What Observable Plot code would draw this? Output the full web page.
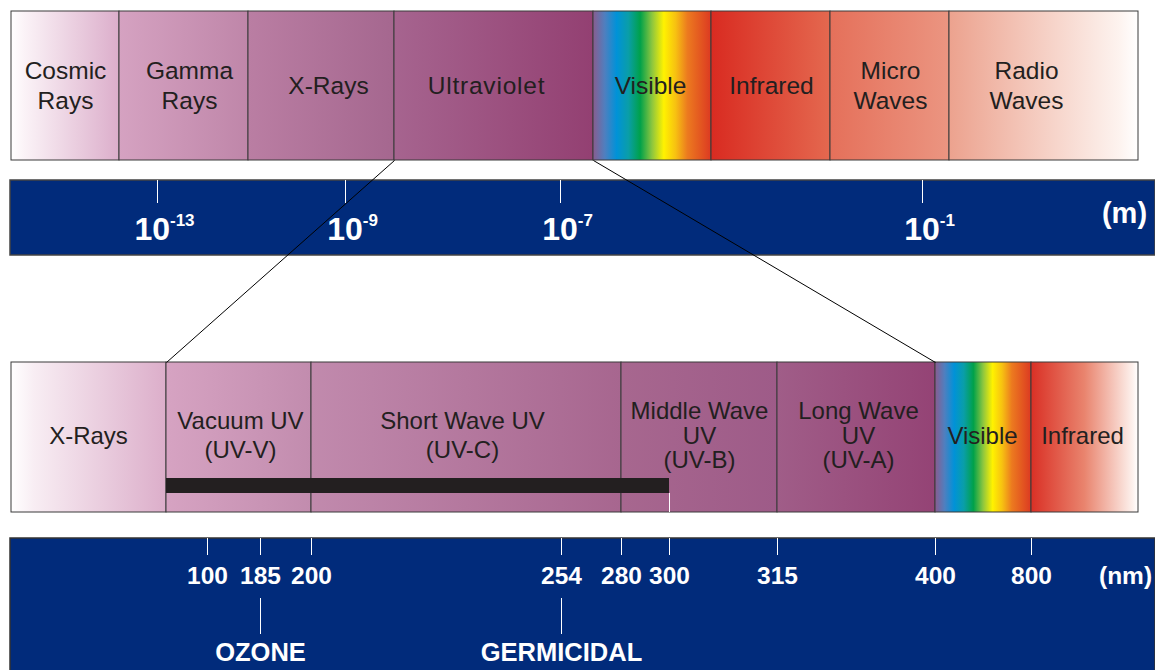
<!DOCTYPE html>
<html><head><meta charset="utf-8">
<script src="https://cdn.jsdelivr.net/npm/d3@7"></script>
<script src="https://cdn.jsdelivr.net/npm/@observablehq/plot@0.6"></script>
<style>html,body{margin:0;padding:0;background:#fff;overflow:hidden}</style>
</head><body><div id="chart"></div>
<script>
// ---------- data (diagram positions) ----------
const spectrumBands = ["Cosmic\nRays","Gamma\nRays","X-Rays","Ultraviolet","Visible","Infrared","Micro\nWaves","Radio\nWaves"];
const spectrumEdges = [11,119,248,394,593,711,830,949,1138];
const spectrumLabelAt = [65,189,328,486,650,771,890,1026];
const meterExponents = ["-13","-9","-7","-1"];
const meterTickAt = [157,345,560,922];
const uvBands = ["X-Rays","Vacuum UV\n(UV-V)","Short Wave UV\n(UV-C)","Middle Wave\nUV\n(UV-B)","Long Wave\nUV\n(UV-A)","Visible","Infrared"];
const uvEdges = [11,166,311,621,777,935,1031,1138];
const uvLabelAt = [88,240,462,699,858,982,1082];
const nmValues = [100,185,200,254,280,300,315,400,800];
const nmTickAt = [207,260,311,561,621,669,777,935,1031];
const lampNames = ["OZONE","GERMICIDAL"];
const lampNm = [185,254];
const absorptionEndNm = 300;

// ---------- styles ----------
const rainbow = [[0,"#8a5c8e"],[0.1,"#4f7fbf"],[0.2,"#0092d8"],[0.3,"#0a9ea8"],[0.4,"#00a14a"],[0.5,"#8cc63f"],[0.6,"#fff200"],[0.7,"#f7c111"],[0.8,"#ec7a1f"],[1,"#dc3a22"]];
const spectrumFills = [
  [[0,"#ffffff"],[0.12,"#fbf3f7"],[1,"#dcaecb"]],
  [[0,"#d5a2c1"],[1,"#bf86a9"]],
  [[0,"#ba7ea3"],[1,"#a5678f"]],
  [[0,"#a6648f"],[1,"#934072"]],
  rainbow,
  [[0,"#d92b21"],[1,"#e4684f"]],
  [[0,"#e5705a"],[1,"#eb9581"]],
  [[0,"#eca28e"],[0.9,"#fdf3ef"],[1,"#ffffff"]]
];
const uvFills = [
  [[0,"#ffffff"],[0.15,"#f8edf3"],[1,"#dcaeca"]],
  [[0,"#d6a3c2"],[1,"#c28cae"]],
  [[0,"#c18aad"],[1,"#a7668f"]],
  [[0,"#a7678f"],[1,"#9e5b88"]],
  [[0,"#a05d88"],[1,"#944375"]],
  rainbow,
  [[0,"#da3025"],[0.5,"#e9846e"],[0.95,"#fdf1ed"],[1,"#ffffff"]]
];
const navy = "#012b7b";
const ink = "#231f20";
const layout = {top:[11,160], meterBar:[180,255], uv:[362,512], nmBar:[538,670], W:1155, H:670};

// ---------- derived tables ----------
const topRects = spectrumBands.map((name,i)=>({name, x1:spectrumEdges[i], x2:spectrumEdges[i+1], lx:spectrumLabelAt[i], fill:`url(#top${i})`}));
const uvRects = uvBands.map((name,i)=>({name, x1:uvEdges[i], x2:uvEdges[i+1], lx:uvLabelAt[i], fill:`url(#uv${i})`}));
const meterTicks = meterExponents.map((e,i)=>({e, x:meterTickAt[i]}));
const nmTicks = nmValues.map((v,i)=>({v, x:nmTickAt[i]}));
const nmPos = v => nmTickAt[nmValues.indexOf(v)];
const lamps = lampNames.map((n,i)=>({n, x:nmPos(lampNm[i])}));
const zoomLinks = [
  {x1: topRects[3].x1, x2: uvRects[1].x1},
  {x1: topRects[3].x2, x2: uvRects[4].x2}
];
const absorption = [{x1: uvRects[1].x1, x2: nmPos(absorptionEndNm)}];

function gradientDefs(){
  const defs = d3.create("svg:defs");
  const add = (id, stops) => {
    const g = defs.append("linearGradient").attr("id",id).attr("x1",0).attr("x2",1).attr("y1",0).attr("y2",0);
    stops.forEach(([o,c])=>g.append("stop").attr("offset",o).attr("stop-color",c));
  };
  spectrumFills.forEach((s,i)=>add(`top${i}`, s));
  uvFills.forEach((s,i)=>add(`uv${i}`, s));
  return defs.node();
}

const c = v => () => v;
const font = "'Liberation Sans', Arial, Helvetica, sans-serif";
const [T0,T1] = layout.top, [M0,M1] = layout.meterBar, [U0,U1] = layout.uv, [N0,N1] = layout.nmBar;
const lines = d => d.name.split("\n").length;

const chart = Plot.plot({
  width: layout.W, height: layout.H, margin: 0,
  x: {domain:[0,layout.W], range:[0,layout.W], axis:null},
  y: {domain:[0,layout.H], range:[0,layout.H], axis:null},
  color: {type:"identity"},
  style: {fontFamily: font, background:"#fff", overflow:"hidden"},
  marks: [
    gradientDefs,
    // top spectrum strip
    Plot.rect(topRects, {x1:"x1", x2:"x2", y1:c(T0), y2:c(T1), fill:"fill", stroke:"#3a3a3a", strokeWidth:1}),
    Plot.text(topRects, {x:"lx", y:c((T0+T1)/2-1.5), text:"name", fontSize:24.5, lineHeight:1.24, lineAnchor:"middle", fill:ink}),
    // meter bar
    Plot.rect([0], {x1:c(spectrumEdges[0]-1), x2:c(layout.W), y1:c(M0), y2:c(M1), fill:navy, stroke:"#444", strokeWidth:1.5}),
    Plot.ruleX(meterTicks, {x:"x", y1:c(M0), y2:c(M0+23), stroke:"#fff", strokeWidth:1}),
    Plot.text(meterTicks, {x:d=>d.x+7, y:c(229), text:d=>"10", fontSize:32, fontWeight:"bold", fill:"#fff"}),
    Plot.text(["(m)"], {x:c(1124), y:c(213), text:d=>d, fontSize:29, fontWeight:"bold", fill:"#fff"}),
    // UV strip
    Plot.rect(uvRects, {x1:"x1", x2:"x2", y1:c(U0), y2:c(U1), fill:"fill", stroke:"#3a3a3a", strokeWidth:1}),
    Plot.rect(absorption, {x1:"x1", x2:"x2", y1:c(478), y2:c(493), fill:ink}),
    Plot.ruleX(absorption, {x:"x2", y1:c(493), y2:c(U1), stroke:"#fff", strokeWidth:1}),
    Plot.text(uvRects.filter(d=>lines(d)<3), {x:"lx", y:c((U0+U1)/2-3), text:"name", fontSize:24, lineHeight:1.2, lineAnchor:"middle", fill:ink}),
    Plot.text(uvRects.filter(d=>lines(d)==3), {x:"lx", y:c((U0+U1)/2-2), text:"name", fontSize:24, lineHeight:1.04, lineAnchor:"middle", fill:ink}),
    // nm bar
    Plot.rect([0], {x1:c(spectrumEdges[0]-1), x2:c(layout.W), y1:c(N0), y2:c(N1+5), fill:navy, stroke:"#333", strokeWidth:1.5}),
    Plot.ruleX(nmTicks, {x:"x", y1:c(N0), y2:c(N0+17), stroke:"#fff", strokeWidth:1}),
    Plot.text(nmTicks, {x:"x", y:c(576), text:d=>String(d.v), fontSize:24.5, fontWeight:"bold", fill:"#fff"}),
    Plot.text(["(nm)"], {x:c(1125), y:c(576), text:d=>d, fontSize:24.5, fontWeight:"bold", fill:"#fff"}),
    Plot.ruleX(lamps, {x:"x", y1:c(598), y2:c(634), stroke:"#fff", strokeWidth:1}),
    Plot.text(lamps, {x:"x", y:c(652), text:"n", fontSize:25.5, fontWeight:"bold", fill:"#fff"}),
    // zoom connectors
    Plot.link(zoomLinks, {x1:"x1", x2:"x2", y1:c(T1), y2:c(U0), stroke:"#000", strokeWidth:1})
  ]
});

// superscript exponents on the meter labels ("10" texts, in data order)
const tens = d3.select(chart).selectAll("text").filter(function(){ return this.textContent === "10"; });
tens.each(function(_, i){
  d3.select(this).append("tspan").attr("dy", -14).attr("font-size", 17).text(meterTicks[i].e);
});
// slight letter spacing on "Ultraviolet" as in the original artwork
d3.select(chart).selectAll("text").filter(function(){ return this.textContent === "Ultraviolet"; }).attr("letter-spacing", 0.8);
document.getElementById("chart").appendChild(chart);
</script>
</body></html>
